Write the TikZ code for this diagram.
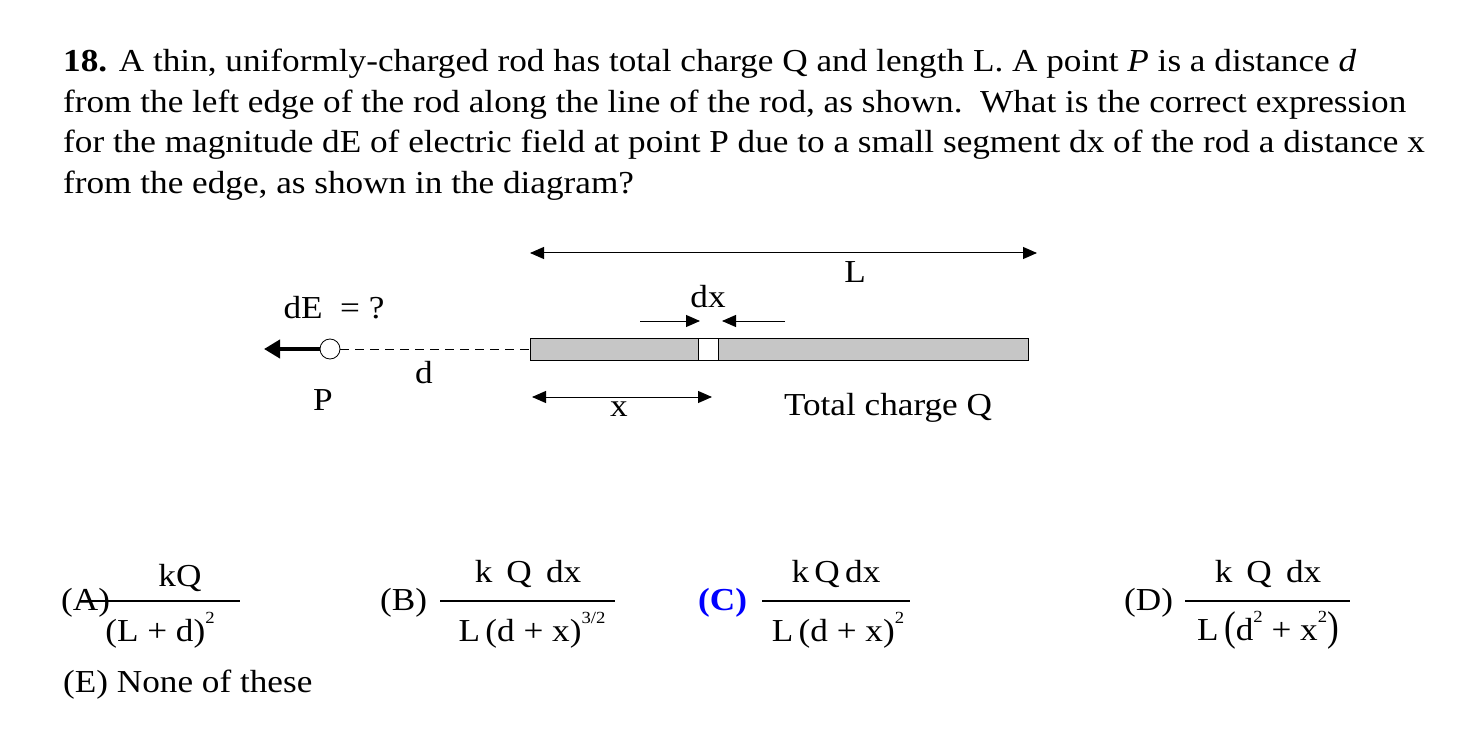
\documentclass[tikz,border=0pt]{standalone}
\usepackage{fontspec}
\setmainfont[FakeStretch=1.1]{Liberation Serif}
\usetikzlibrary{arrows.meta}
\newcommand{\sps}[1]{\raisebox{0.55em}{\fontsize{17}{17}\selectfont #1}}
\begin{document}
\begin{tikzpicture}[x=1pt,y=-1pt,
  txt/.style={inner sep=0pt,font=\fontsize{32}{38}\selectfont},
  dim/.style={line width=1pt,{Triangle[length=14pt,width=12pt]}-{Triangle[length=14pt,width=12pt]}},
  one/.style={line width=1pt,-{Triangle[length=14pt,width=12pt]}},
  bar/.style={line width=1.3pt}]
\useasboundingbox (0,0) rectangle (1484,746);
\node[txt,anchor=base west] (l1) at (63,72) {\textbf{18.} A thin, uniformly-charged rod has total charge Q and length L. A point \textit{P} is a distance \textit{d}};
\node[txt,anchor=base west] (l2) at (63,113) {from the left edge of the rod along the line of the rod, as shown.\ \ What is the correct expression};
\node[txt,anchor=base west] (l3) at (63,153) {for the magnitude dE of electric field at point P due to a small segment dx of the rod a distance x};
\node[txt,anchor=base west] (l4) at (63,194) {from the edge, as shown in the diagram?};
% diagram
\coordinate (La) at (530,253); \coordinate (Lb) at (1037,253);
\draw[dim] (La) -- (Lb);
\node[txt] (Lt) at (855,272) {L};
\draw[fill=gray!45,line width=0.8pt] (530,338) rectangle (1028,360);
\node[draw,fill=white,line width=0.8pt,minimum width=20pt,minimum height=22pt,inner sep=0pt] (seg) at (708,349) {};
\coordinate (d1) at (640,321); \coordinate (d2) at (700,321);
\coordinate (d3) at (785,321); \coordinate (d4) at (722,321);
\draw[one] (d1) -- (d2); \draw[one] (d3) -- (d4);
\node[txt] (dxt) at (708,297) {dx};
\node[txt] (dEt) at (334,308) {dE\ \ = ?};
\node[circle,draw,fill=white,line width=0.8pt,minimum size=20pt,inner sep=0pt] (P) at (330,349) {};
\coordinate (Ea) at (264,349);
\draw[line width=4pt,-{Triangle[length=16pt,width=18pt]}] (P.west) -- (Ea);
\coordinate (rodL) at (530,349);
\draw[dashed,line width=1pt,dash pattern=on 9pt off 6pt] (P.east) -- (rodL);
\node[txt] (dt) at (424,373) {d};
\node[txt] (Pt) at (323,400) {P};
\coordinate (xa) at (532,397); \coordinate (xb) at (712,397);
\draw[dim] (xa) -- (xb);
\node[txt] (xt) at (619,409) {x};
\node[txt] (Qt) at (888,408) {Total charge Q};
% answers
\begin{scope}[every node/.style={txt}]
\node[anchor=west] (A) at (61,603) {(A)};
\node (An) at (180,578) {kQ};
\node (Ad) at (160,630) {(L + d)\sps{2}};
\coordinate (A1) at (80,601); \coordinate (A2) at (240,601);
\draw[bar] (A1) -- (A2);
\node[anchor=west] (B) at (380,603) {(B)};
\node (Bn) at (528,574) {k\, Q\, dx};
\node (Bd) at (532,630) {L\,(d + x)\sps{3/2}};
\coordinate (B1) at (440,601); \coordinate (B2) at (615,601);
\draw[bar] (B1) -- (B2);
\node[anchor=west,text=blue] (C) at (698,603) {\textbf{(C)}};
\node (Cn) at (836,574) {k\,Q\,dx};
\node (Cd) at (838,630) {L\,(d + x)\sps{2}};
\coordinate (C1) at (762,601); \coordinate (C2) at (910,601);
\draw[bar] (C1) -- (C2);
\node[anchor=west] (D) at (1124,603) {(D)};
\node (Dn) at (1268,574) {k\, Q\, dx};
\node (Dd) at (1268,630) {L\,\scalebox{1}[1.3]{(}d\sps{2} + x\sps{2}\scalebox{1}[1.3]{)}};
\coordinate (D1) at (1185,601); \coordinate (D2) at (1350,601);
\draw[bar] (D1) -- (D2);
\node[anchor=west] (E) at (63,685) {(E) None of these};
\end{scope}
\end{tikzpicture}
\end{document}
